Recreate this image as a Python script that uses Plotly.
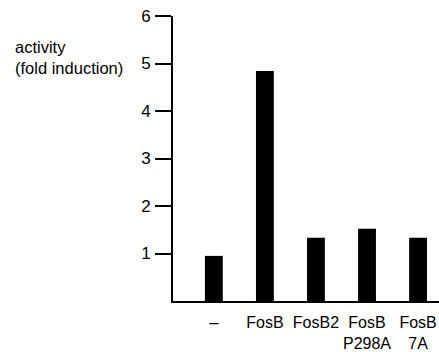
import plotly.graph_objects as go

categories = ["–", "FosB", "FosB2", "FosB<br>P298A", "FosB<br>7A"]
activity = [0.95, 4.84, 1.33, 1.52, 1.33]
y_ticks = [1, 2, 3, 4, 5, 6]

FONT = "Liberation Sans, Arial, Helvetica, sans-serif"

fig = go.Figure(go.Bar(x=categories, y=activity, marker=dict(color="black", line=dict(width=0)), width=0.35))

fig.update_layout(
    width=439, height=352,
    margin=dict(l=173, r=0, t=16, b=49),
    paper_bgcolor="white", plot_bgcolor="white",
    showlegend=False,
    font=dict(family=FONT, size=16, color="black"),
    xaxis=dict(
        range=[-0.80, 4.41], showline=True, linecolor="black", linewidth=2,
        showgrid=False, zeroline=False, ticks="", ticklabelstandoff=6,
        tickfont=dict(size=16),
    ),
    yaxis=dict(
        range=[0, 6], showline=True, linecolor="black", linewidth=2,
        showgrid=False, zeroline=False, tickvals=y_ticks, ticks="outside",
        ticklen=16, tickwidth=2, tickcolor="black", ticklabelstandoff=1,
        tickfont=dict(size=17),
    ),
    annotations=[dict(
        text="activity<br>(fold induction)", xref="paper", yref="paper",
        x=(13 - 173) / 266, y=(303 - 36) / 287, xanchor="left", yanchor="top",
        align="left", showarrow=False, font=dict(size=16.5),
    )],
)

fig.write_html("out.html")
